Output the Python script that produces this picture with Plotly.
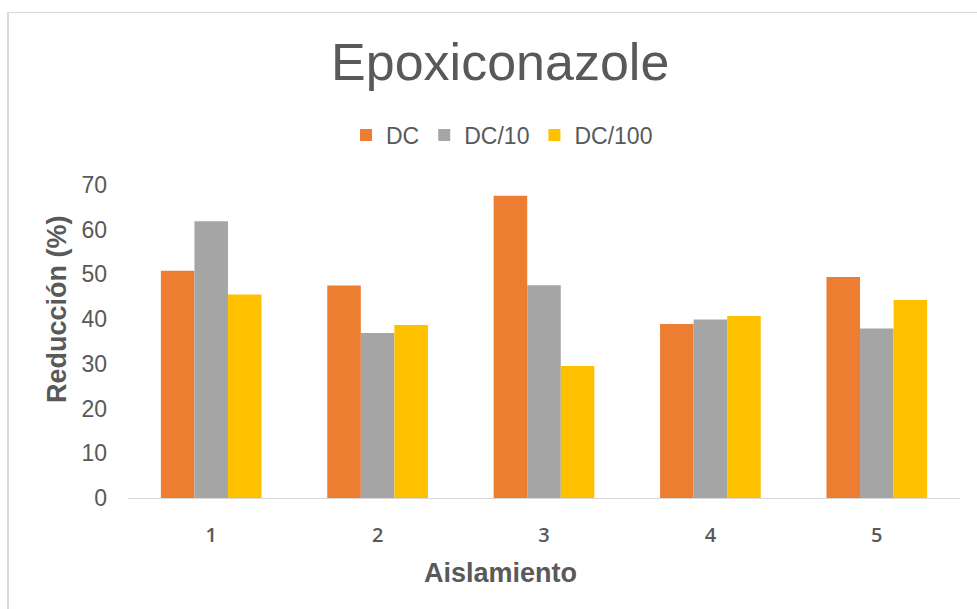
import plotly.graph_objects as go

# Reduction (%) per isolate at three doses of epoxiconazole
aislamientos = ["1", "2", "3", "4", "5"]
dc = [50.8, 47.5, 67.6, 38.9, 49.4]
dc_10 = [61.9, 36.9, 47.6, 39.9, 37.9]
dc_100 = [45.5, 38.7, 29.5, 40.7, 44.3]
y_ticks = [0, 10, 20, 30, 40, 50, 60, 70]

W, H = 977, 609
ML, MR, MT, MB = 128, 17, 185, 111
PW, PH = W - ML - MR, H - MT - MB


def px(x):
    return (x - ML) / PW


def py(y):
    return (H - MB - y) / PH


TEXT = "#595959"
FONT = "Liberation Sans, Arial, sans-serif"

fig = go.Figure()
for name, vals, color in [
    ("DC", dc, "#ED7D31"),
    ("DC/10", dc_10, "#A5A5A5"),
    ("DC/100", dc_100, "#FFC000"),
]:
    fig.add_trace(go.Bar(x=aislamientos, y=vals, name=name,
                         marker=dict(color=color, line=dict(width=0))))

fig.update_layout(
    width=W, height=H,
    margin=dict(l=ML, r=MR, t=MT, b=MB),
    paper_bgcolor="white", plot_bgcolor="white",
    barmode="group", bargap=0.395, bargroupgap=0,
    font=dict(family=FONT, color=TEXT),
    title=dict(text="Epoxiconazole", x=0.512, xanchor="center",
               y=1 - 62 / H, yanchor="middle",
               font=dict(size=52, color=TEXT, family=FONT)),
    legend=dict(orientation="h", x=px(502), xanchor="center",
                y=py(135), yanchor="middle",
                font=dict(size=23, color=TEXT, family=FONT),
                itemwidth=30, traceorder="normal"),
    showlegend=True,
)
fig.update_xaxes(showgrid=False, showline=True, linecolor="#D9D9D9",
                 linewidth=1, ticks="", ticklabelstandoff=19,
                 tickfont=dict(size=20, color=TEXT, weight=600,
                               family="Open Sans, sans-serif"))
fig.update_yaxes(range=[0, 70], tickvals=y_ticks, showgrid=False,
                 showline=False, zeroline=False, ticks="",
                 ticklabelstandoff=20,
                 tickfont=dict(size=23, color=TEXT, family=FONT))

fig.add_annotation(text="<b>Aislamiento</b>", xref="paper", yref="paper",
                   x=px(500), y=py(573), xanchor="center", yanchor="middle",
                   showarrow=False, font=dict(size=27, color=TEXT, family=FONT))
fig.add_annotation(text="<b>Reducción (%)</b>", xref="paper", yref="paper",
                   x=px(57), y=py(309), xanchor="center", yanchor="middle",
                   textangle=-90, showarrow=False,
                   font=dict(size=27, color=TEXT, family=FONT))

# chart-area frame
fig.add_shape(type="line", xref="paper", yref="paper",
              x0=px(8), x1=px(8), y0=py(12), y1=py(609),
              line=dict(color="#D9D9D9", width=2))
fig.add_shape(type="line", xref="paper", yref="paper",
              x0=px(7), x1=px(977), y0=py(12.5), y1=py(12.5),
              line=dict(color="#D9D9D9", width=1))

fig.write_html("out.html")
